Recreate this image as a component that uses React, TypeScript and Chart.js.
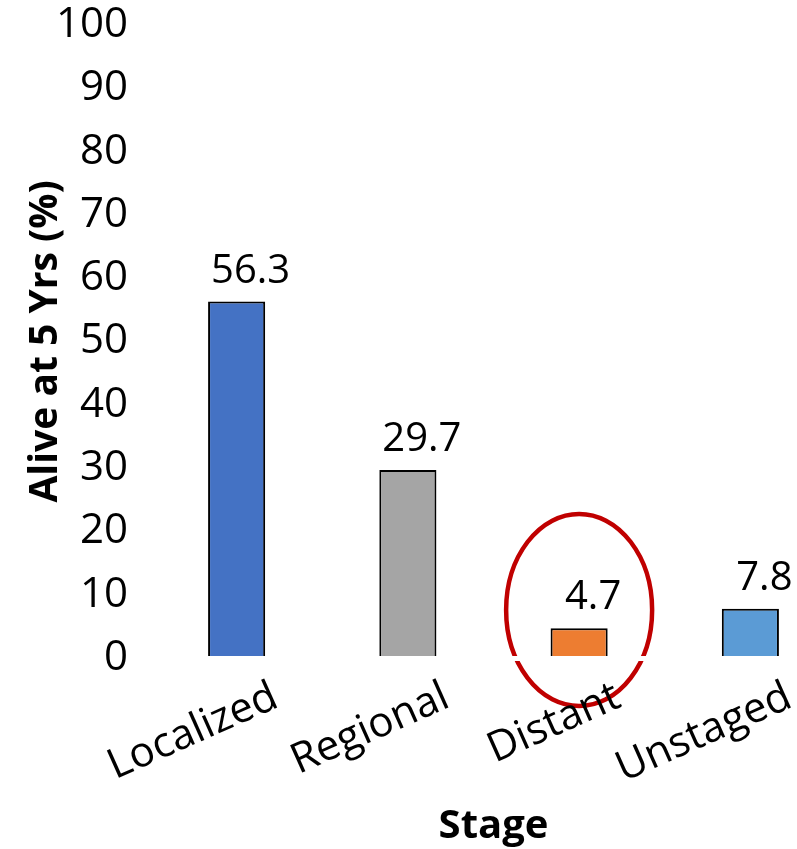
import React, { useEffect, useRef } from "react";
import { Chart, registerables } from "chart.js";

Chart.register(...registerables);

// Five-year survival by stage at diagnosis
const stages = ["Localized", "Regional", "Distant", "Unstaged"];
const survival = [56.3, 29.7, 4.7, 7.8];
const barColors = ["#4472C4", "#A5A5A5", "#ED7D31", "#5B9BD5"];
const yTicks = [0, 10, 20, 30, 40, 50, 60, 70, 80, 90, 100];
const highlightedStage = "Distant";

const FONT = "'Open Sans', 'DejaVu Sans', sans-serif";
const CANVAS_W = 836;
const CANVAS_H = 849;
const PLOT_LEFT = 151;
const PLOT_TOP = 25;
const PLOT_BOTTOM = 658;

// Value labels written above each bar
const valueLabels = {
  id: "valueLabels",
  afterDatasetsDraw(chart: any) {
    const { ctx } = chart;
    const meta = chart.getDatasetMeta(0);
    ctx.save();
    ctx.font = `40px ${FONT}`;
    ctx.fillStyle = "#000";
    ctx.textAlign = "center";
    ctx.textBaseline = "alphabetic";
    meta.data.forEach((bar: any, i: number) => {
      ctx.fillText(survival[i].toFixed(1), bar.x + 14, bar.y - 19);
    });
    ctx.restore();
  },
};

// Red ring drawn around the highlighted stage
const highlightRing = {
  id: "highlightRing",
  afterDatasetsDraw(chart: any) {
    const { ctx } = chart;
    const x = chart.scales.x.getPixelForValue(stages.indexOf(highlightedStage));
    const y = chart.scales.y.getPixelForValue(7.6);
    ctx.save();
    ctx.strokeStyle = "#C00000";
    ctx.lineWidth = 4.5;
    ctx.beginPath();
    ctx.ellipse(x, y, 73, 96, 0, 0, Math.PI * 2);
    ctx.stroke();
    ctx.restore();
  },
};

export default function App() {
  const canvasRef = useRef<HTMLCanvasElement | null>(null);

  useEffect(() => {
    document.body.style.margin = "0";
    const canvas = canvasRef.current;
    if (!canvas) return;
    const chart = new Chart(canvas, {
      type: "bar",
      data: {
        labels: stages,
        datasets: [
          {
            data: survival,
            backgroundColor: barColors,
            borderColor: "#000",
            borderWidth: 2,
            categoryPercentage: 0.5,
            barPercentage: 0.667,
          },
        ],
      },
      options: {
        responsive: false,
        animation: false,
        devicePixelRatio: 1,
        layout: { padding: { left: 0, right: 0, top: PLOT_TOP, bottom: 0 } },
        plugins: {
          legend: { display: false },
          tooltip: { enabled: false },
        },
        scales: {
          x: {
            offset: true,
            grid: { display: false, drawTicks: false },
            border: { display: true, color: "#FFFFFF", width: 5, z: 1 },
            ticks: {
              autoSkip: false,
              maxRotation: 24,
              minRotation: 24,
              labelOffset: 39,
              padding: 14,
              color: "#000",
              font: { family: FONT, size: 42 },
              z: 2,
            },
            title: {
              display: true,
              text: "Stage",
              color: "#000",
              font: { family: FONT, size: 40, weight: "bold", lineHeight: 1.1 },
              padding: { top: 0, bottom: 0 },
            },
            afterFit(scale: any) {
              scale.height = CANVAS_H - PLOT_BOTTOM;
            },
          },
          y: {
            min: 0,
            max: 100,
            grid: { display: false, drawTicks: false },
            border: { display: false },
            afterBuildTicks(scale: any) {
              scale.ticks = yTicks.map((v) => ({ value: v }));
            },
            ticks: {
              stepSize: 10,
              padding: 23,
              color: "#000",
              font: { family: FONT, size: 42 },
            },
            title: {
              display: true,
              text: "Alive at 5 Yrs (%)",
              color: "#000",
              font: { family: FONT, size: 39, weight: "bold" },
              padding: { top: 22, bottom: 0 },
            },
            afterFit(scale: any) {
              scale.width = PLOT_LEFT;
              scale.paddingTop = 0;
              scale.paddingBottom = 0;
            },
          },
        },
      },
      plugins: [highlightRing, valueLabels],
    });
    return () => chart.destroy();
  }, []);

  return (
    <div
      style={{
        width: 797,
        height: CANVAS_H,
        overflow: "hidden",
        position: "relative",
        background: "#fff",
      }}
    >
      <canvas
        ref={canvasRef}
        width={CANVAS_W}
        height={CANVAS_H}
        style={{ display: "block", width: CANVAS_W, height: CANVAS_H }}
      />
    </div>
  );
}
